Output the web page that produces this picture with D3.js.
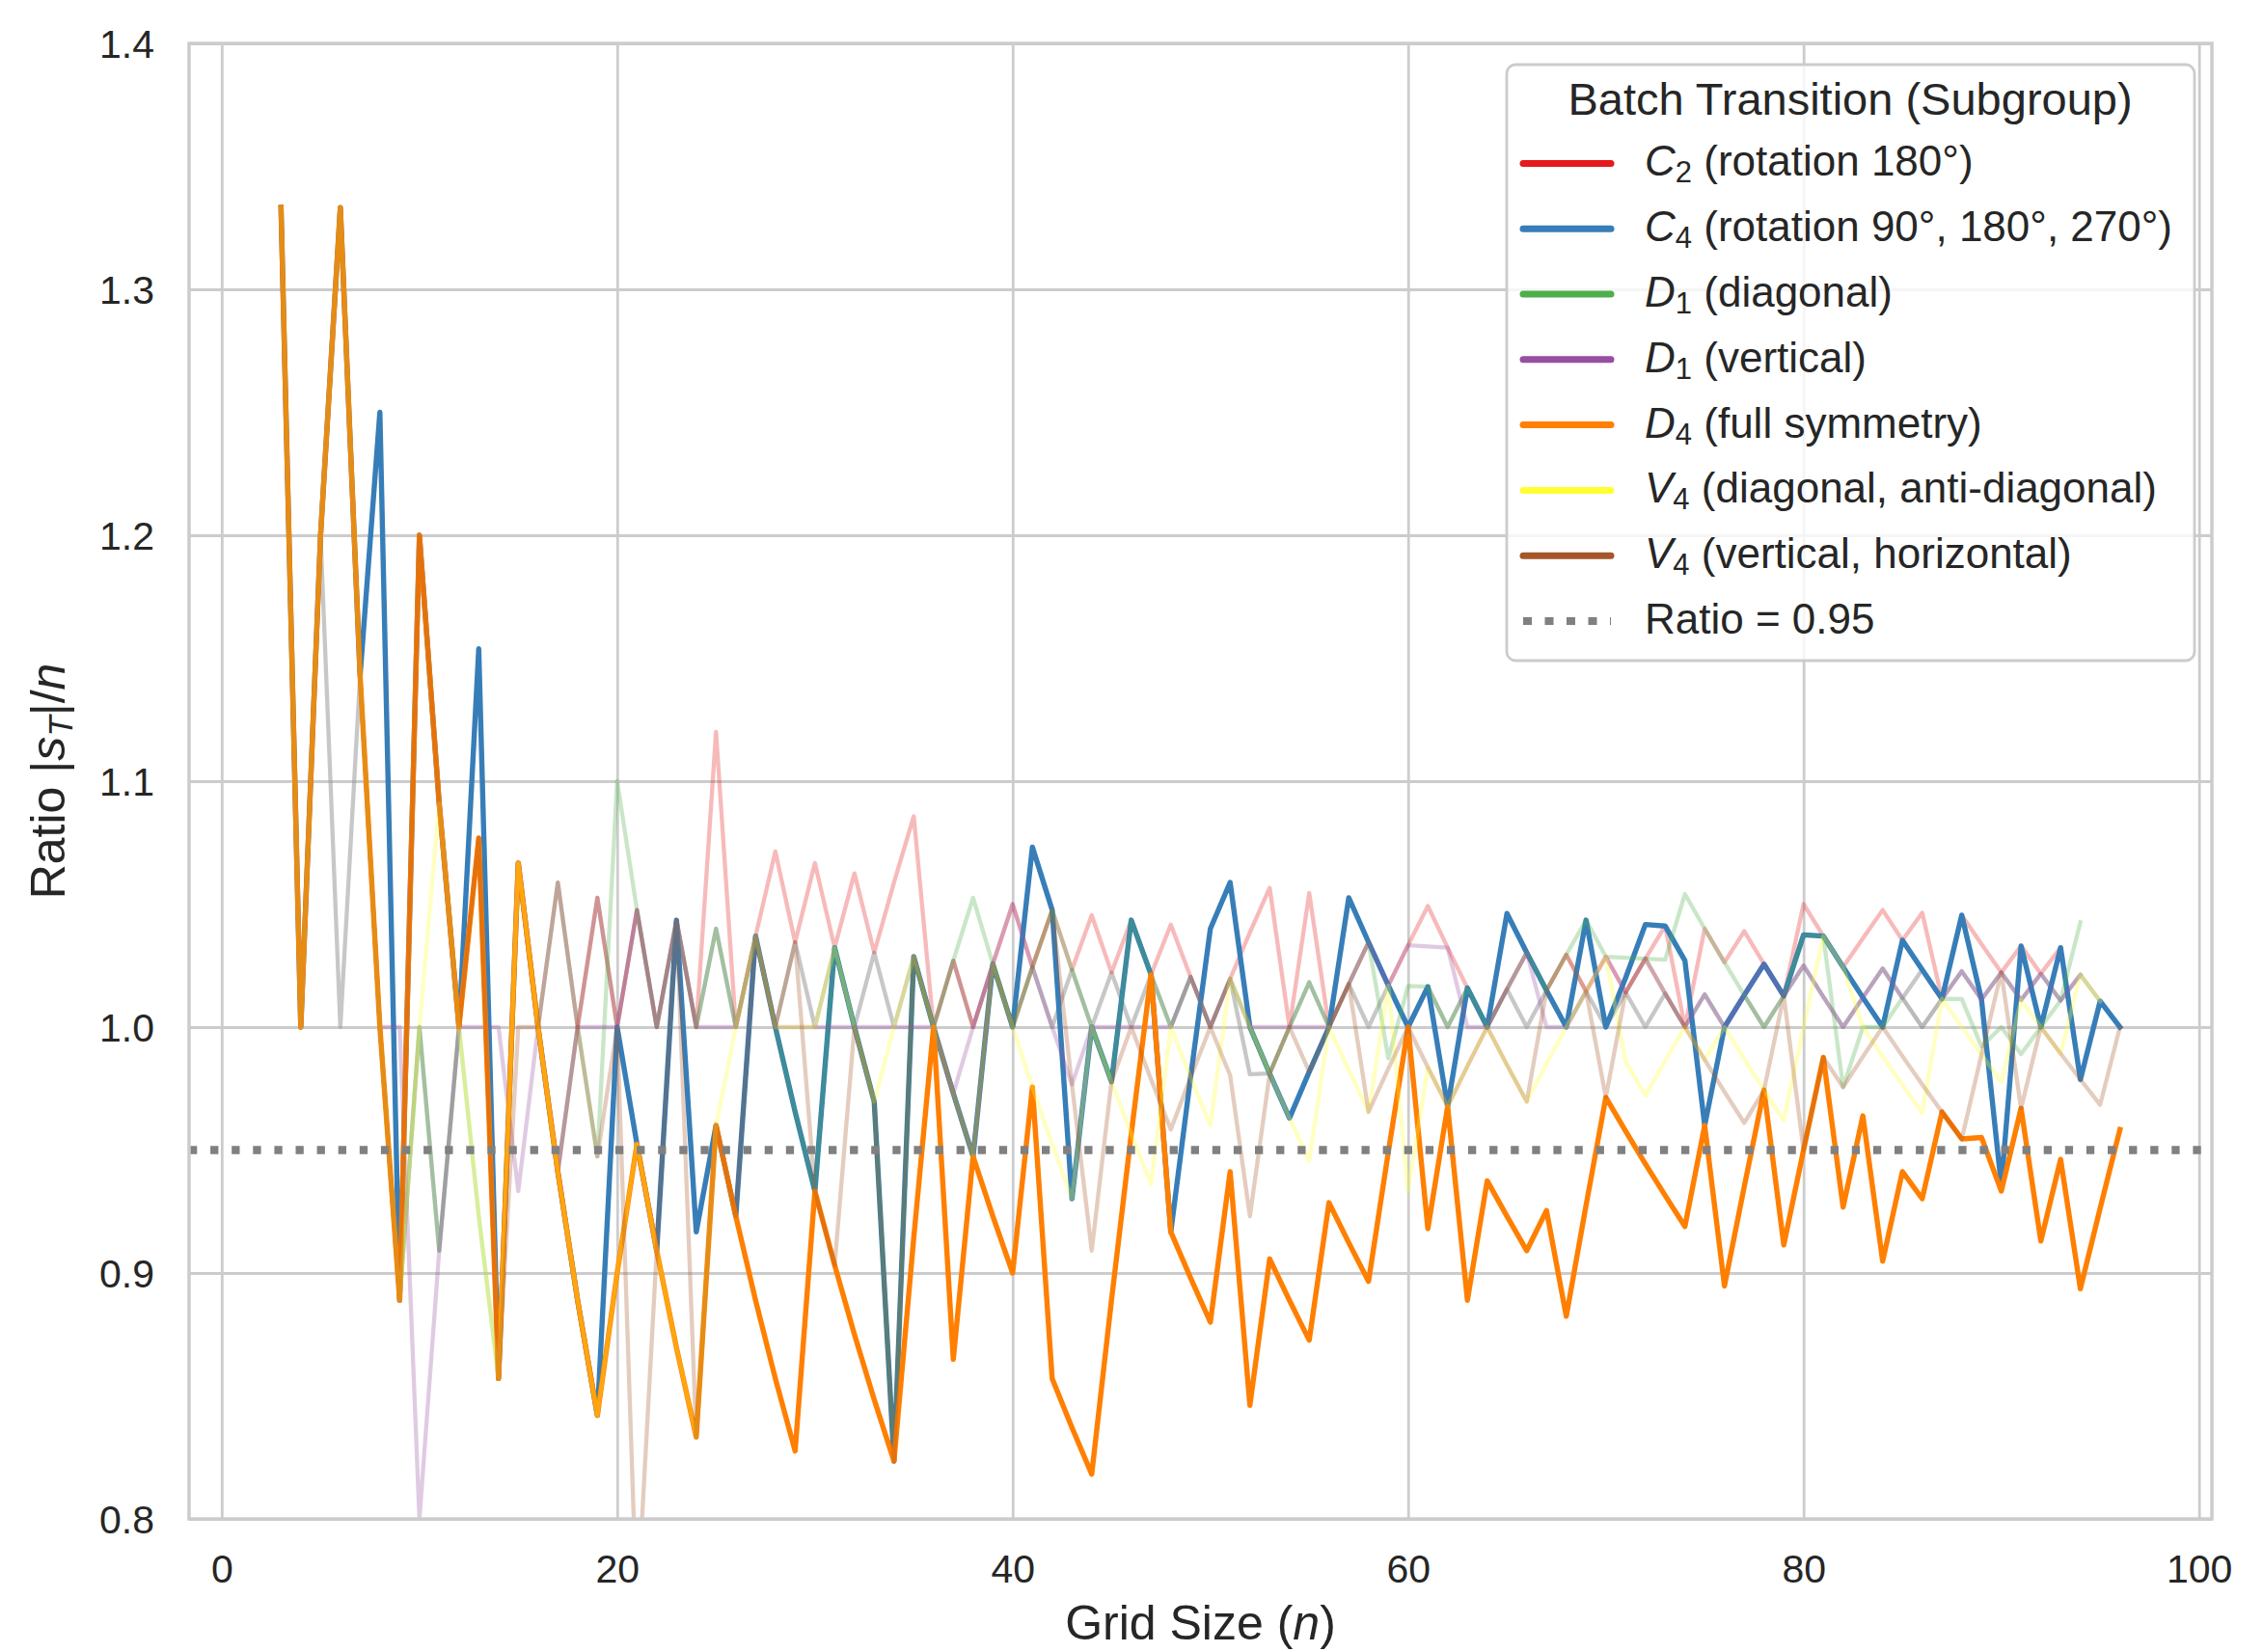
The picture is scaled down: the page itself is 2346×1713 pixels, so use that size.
<!DOCTYPE html>
<html>
<head>
<meta charset="utf-8">
<script src="https://cdn.jsdelivr.net/npm/d3@7"></script>
<style>
  html, body { margin: 0; padding: 0; background: #fff; }
  svg { display: block; font-family: "Liberation Sans", Arial, Helvetica, sans-serif; }
  text { white-space: pre; }
</style>
</head>
<body>
<svg id="chart" width="2346" height="1713"></svg>
<script>
// Grid sizes n (x values)
const gridSizes = [
  3, 4, 5, 6, 7, 8, 9, 10, 11, 12,
  13, 14, 15, 16, 17, 18, 19, 20, 21, 22,
  23, 24, 25, 26, 27, 28, 29, 30, 31, 32,
  33, 34, 35, 36, 37, 38, 39, 40, 41, 42,
  43, 44, 45, 46, 47, 48, 49, 50, 51, 52,
  53, 54, 55, 56, 57, 58, 59, 60, 61, 62,
  63, 64, 65, 66, 67, 68, 69, 70, 71, 72,
  73, 74, 75, 76, 77, 78, 79, 80, 81, 82,
  83, 84, 85, 86, 87, 88, 89, 90, 91, 92,
  93, 94, 95, 96
];

// Ratio |s_T|/n per subgroup
const c2Ratio = [
  1.3333, 1.0, 1.2, 1.3333, 1.1429, 1.0, 0.8889, 1.2, 1.0909, 1.0,
  1.0769, 0.8571, 1.0667, 1.0, 0.9412, 1.0, 1.0526, 1.0, 1.0476, 1.0,
  1.0435, 1.0, 1.12, 1.0, 1.037, 1.0714, 1.0345, 1.0667, 1.0323, 1.0625,
  1.0303, 1.0588, 1.0857, 1.0, 1.027, 1.0, 1.0256, 1.05, 1.0244, 1.0476,
  1.0233, 1.0455, 1.0222, 1.0435, 1.0213, 1.0417, 1.0204, 1.0, 1.0196, 1.0385,
  1.0566, 1.0, 1.0545, 1.0, 1.0175, 1.0345, 1.0169, 1.0333, 1.0492, 1.0323,
  1.0159, 1.0, 1.0154, 1.0303, 1.0149, 1.0294, 1.0145, 1.0286, 1.0141, 1.0278,
  1.0411, 1.0, 1.04, 1.0263, 1.039, 1.0256, 1.0127, 1.05, 1.037, 1.0244,
  1.0361, 1.0476, 1.0353, 1.0465, 1.0115, 1.0455, 1.0337, 1.0222, 1.033, 1.0217,
  1.0323, null, null, null
];

const c4Ratio = [
  1.3333, 1.0, 1.2, 1.3333, 1.1429, 1.25, 0.8889, 1.2, 1.0909, 1.0,
  1.1538, 0.8571, 1.0667, 1.0, 0.9412, 0.8889, 0.8421, 1.0, 0.9524, 0.9091,
  1.0435, 0.9167, 0.96, 0.9231, 1.037, 1.0, 0.9655, 0.9333, 1.0323, 1.0,
  0.9697, 0.8235, 1.0286, 1.0, 0.973, 0.9474, 1.0256, 1.0, 1.0732, 1.0476,
  0.9302, 1.0, 0.9778, 1.0435, 1.0213, 0.9167, 0.9796, 1.04, 1.0588, 1.0,
  0.9811, 0.963, 0.9818, 1.0, 1.0526, 1.0345, 1.0169, 1.0, 1.0164, 0.9677,
  1.0159, 1.0, 1.0462, 1.0303, 1.0149, 1.0, 1.0435, 1.0, 1.02, 1.0417,
  1.0411, 1.027, 0.96, 1.0, 1.013, 1.0256, 1.0127, 1.0375, 1.037, 1.0244,
  1.012, 1.0, 1.0353, 1.0233, 1.0115, 1.0455, 1.0112, 0.9356, 1.033, 1.0,
  1.0323, 0.9787, 1.0105, 1.0
];

const d1DiagRatio = [
  1.3333, 1.0, 1.2, 1.3333, 1.1429, 1.0, 0.8889, 1.0, 0.9091, 1.0,
  0.9231, 0.8571, 1.0667, 1.0, 0.9412, 1.0, 0.9474, 1.1, 1.0476, 1.0,
  1.0435, 1.0, 1.04, 1.0, 1.037, 1.0, 0.9655, 0.9333, 1.0323, 1.0,
  0.9697, 0.8235, 1.0286, 1.0, 1.027, 1.0526, 1.0256, 1.0, 1.0244, 1.0476,
  1.0233, 1.0, 0.9778, 1.0435, 1.0213, 1.0, 1.0204, 1.0, 1.0196, 1.0,
  0.9811, 1.0, 1.0182, 1.0, 1.0175, 1.0345, 0.9873, 1.0167, 1.0164, 1.0,
  1.0159, 1.0, 1.0154, 1.0303, 1.0149, 1.0294, 1.0435, 1.0286, 1.0282, 1.0278,
  1.0274, 1.0541, 1.04, 1.0263, 1.013, 1.0, 1.0127, 1.0375, 1.037, 0.9756,
  1.0, 1.0, 1.0118, 1.0, 1.0115, 1.0114, 0.9921, 1.0, 0.989, 1.0,
  1.0108, 1.0426, null, null
];

const d1VertRatio = [
  1.3333, 1.0, 1.2, 1.3333, 1.1429, 1.0, 1.0, 0.8, 0.9091, 1.0,
  1.0, 1.0, 0.9333, 1.0, 0.9412, 1.0, 1.0, 1.0, 1.0476, 1.0,
  1.0435, 1.0, 1.0, 1.0, 1.037, 1.0, 1.0, 1.0, 1.0, 1.0,
  1.0, 1.0, 1.0, 1.0, 0.973, 1.0, 1.0256, 1.05, 1.0244, 1.0,
  0.9767, 1.0, 1.0, 1.0, 1.0, 1.0, 1.0204, 1.0, 1.0196, 1.0,
  1.0, 1.0, 1.0, 1.0, 1.0175, 1.0345, 1.0169, 1.0333, 1.0328, 1.0323,
  1.0, 1.0, 1.0154, 1.0303, 1.0, 1.0, 1.0145, 1.0286, 1.0141, 1.0278,
  1.0137, 1.0, 1.0133, 1.0, 1.013, 1.0256, 1.0127, 1.025, 1.0123, 1.0,
  1.012, 1.0238, 1.0118, 1.0, 1.0115, 1.0227, 1.0112, 1.0222, 1.011, 1.0217,
  1.0108, 1.0213, null, null
];

const d4Ratio = [
  1.3333, 1.0, 1.2, 1.3333, 1.1429, 1.0, 0.8889, 1.2, 1.0909, 1.0,
  1.0769, 0.8571, 1.0667, 1.0, 0.9412, 0.8889, 0.8421, 0.9, 0.9524, 0.9091,
  0.8696, 0.8333, 0.96, 0.9231, 0.8889, 0.8571, 0.8276, 0.9333, 0.9032, 0.875,
  0.8485, 0.8235, 0.9143, 1.0, 0.8649, 0.9474, 0.9231, 0.9, 0.9756, 0.8571,
  0.8372, 0.8182, 0.8889, 0.9565, 1.0213, 0.9167, 0.898, 0.88, 0.9412, 0.8462,
  0.9057, 0.8889, 0.8727, 0.9286, 0.9123, 0.8966, 0.9492, 1.0, 0.918, 0.9677,
  0.8889, 0.9375, 0.9231, 0.9091, 0.9254, 0.8824, 0.9275, 0.9714, 0.9577, 0.9444,
  0.9315, 0.9189, 0.96, 0.8947, 0.9351, 0.9744, 0.9114, 0.95, 0.9877, 0.9268,
  0.9639, 0.9048, 0.9412, 0.9302, 0.9655, 0.9545, 0.9551, 0.9333, 0.967, 0.913,
  0.9462, 0.8936, 0.9263, 0.9583
];

const v4DiagRatio = [
  1.3333, 1.0, 1.2, 1.3333, 1.1429, 1.0, 0.8889, 1.0, 1.0909, 1.0,
  0.9231, 0.8571, 1.0667, 1.0, 0.9412, 0.8889, 0.8421, 0.9, 0.9524, 0.9091,
  0.8696, 0.8333, 0.96, 1.0, 1.037, 1.0, 1.0, 1.0, 1.0323, 1.0,
  0.9697, 1.0, 1.0286, 1.0, 0.973, 0.9474, 1.0256, 1.0, 0.9756, 0.9524,
  0.9302, 1.0, 0.9778, 0.9565, 0.9362, 1.0, 0.9796, 0.96, 1.0196, 1.0,
  0.9811, 0.963, 0.9455, 1.0, 0.9825, 0.9655, 1.0169, 0.9333, 0.9836, 0.9677,
  0.9841, 1.0, 0.9846, 0.9697, 0.9851, 1.0, 1.0145, 1.0286, 0.9859, 0.9722,
  0.9863, 1.0, 0.9867, 1.0, 0.987, 0.9744, 0.962, 1.0, 1.037, 1.0244,
  1.0, 0.9881, 0.9765, 0.9651, 1.0115, 1.0, 0.9888, 0.9778, 1.011, 1.0,
  0.9892, 1.0213, 1.0105, null
];

const v4VertRatio = [
  1.3333, 1.0, 1.2, 1.3333, 1.1429, 1.0, 0.8889, 1.2, 1.0909, 1.0,
  1.0769, 0.8571, 1.0, 1.0, 1.0588, 1.0, 0.9474, 1.0, 0.7619, 0.9091,
  1.0435, 0.8333, 0.96, 0.9231, 1.037, 1.0, 1.0345, 0.9333, 0.9032, 1.0,
  0.9697, 0.8235, 1.0286, 1.0, 0.973, 0.9474, 1.0256, 1.0, 1.0244, 1.0476,
  0.9767, 0.9091, 0.9778, 1.0, 0.9787, 0.9583, 0.9796, 1.0, 0.9804, 0.9231,
  0.9811, 1.0, 0.9818, 1.0, 1.0175, 0.9655, 0.9831, 1.0, 0.9836, 0.9677,
  0.9841, 1.0, 0.9846, 0.9697, 1.0149, 1.0294, 1.0145, 0.9714, 1.0141, 1.0278,
  1.0137, 1.0, 0.9867, 0.9737, 0.961, 0.9744, 1.0127, 0.95, 0.9877, 0.9756,
  0.988, 1.0, 0.9882, 0.9767, 0.9655, 0.9545, 0.9888, 1.0222, 0.967, 1.0,
  0.9892, 0.9787, 0.9684, 1.0
];

// unlabeled reference series (grey, not in legend)
const otherRatio = [
  1.3333, 1.0, 1.2, 1.0, 1.1429, 1.0, 0.8889, 1.0, 0.9091, 1.0,
  1.0769, 0.8571, 1.0667, 1.0, 1.0588, 1.0, 1.0526, 1.0, 1.0476, 1.0,
  1.0435, 1.0, 1.04, 1.0, 1.037, 1.0, 1.0345, 1.0, 1.0323, 1.0,
  1.0303, 1.0, 1.0286, 1.0, 1.027, 1.0, 1.0256, 1.0, 1.0244, 1.0,
  1.0233, 1.0, 1.0222, 1.0, 1.0213, 1.0, 1.0204, 1.0, 1.0196, 0.9808,
  0.9811, 1.0, 1.0182, 1.0, 1.0175, 1.0, 1.0169, 1.0, 1.0164, 1.0,
  1.0159, 1.0, 1.0154, 1.0, 1.0149, 1.0, 1.0145, 1.0, 1.0141, 1.0,
  1.0137, 1.0, 1.0133, 1.0, 1.013, 1.0, 1.0127, 1.025, 1.0123, 1.0,
  1.012, 1.0238, 1.0118, 1.0233, 1.0115, 1.0227, 1.0112, 1.0222, 1.011, 1.0217,
  1.0108, 1.0213, 1.0105, 1.0
];

const threshold = 0.95;

// axis ticks
const xTicks = [0, 20, 40, 60, 80, 100];
const yTicks = [0.8, 0.9, 1.0, 1.1, 1.2, 1.3, 1.4];

// legend labels: italic letter, subscript, rest
const legendLetters = ["C", "C", "D", "D", "D", "V", "V"];
const legendSubs = ["2", "4", "1", "1", "4", "4", "4"];
const legendRest = [
  " (rotation 180°)",
  " (rotation 90°, 180°, 270°)",
  " (diagonal)",
  " (vertical)",
  " (full symmetry)",
  " (diagonal, anti-diagonal)",
  " (vertical, horizontal)"
];

// ---- layout ----
const plot = { left: 196, right: 2293, top: 45, bottom: 1575 };
const textColor = "#262626";
const gridColor = "#cccccc";

const svg = d3.select("#chart");

const x = d3.scaleLinear().domain([-1.65, 100.65]).range([plot.left, plot.right]);
const y = d3.scaleLinear().domain([0.8, 1.4]).range([plot.bottom, plot.top]);

svg.append("rect")
  .attr("width", 2346).attr("height", 1713).attr("fill", "#fff");

// grid + tick labels
const xAxisG = svg.append("g")
  .attr("transform", `translate(0,${plot.bottom})`)
  .call(d3.axisBottom(x)
    .tickValues(xTicks)
    .tickSize(-(plot.bottom - plot.top))
    .tickPadding(37)
    .tickFormat(d3.format("d")));

const yAxisG = svg.append("g")
  .attr("transform", `translate(${plot.left},0)`)
  .call(d3.axisLeft(y)
    .tickValues(yTicks)
    .tickSize(-(plot.right - plot.left))
    .tickPadding(36)
    .tickFormat(d3.format(".1f")));

[xAxisG, yAxisG].forEach(g => {
  g.select(".domain").remove();
  g.selectAll(".tick line").attr("stroke", gridColor).attr("stroke-width", 2.8);
  g.selectAll(".tick text")
    .attr("fill", textColor)
    .style("font-size", "41px")
    .style("font-family", '"Liberation Sans", Arial, sans-serif');
});
yAxisG.selectAll(".tick text").attr("dy", "0.36em");

// clip
svg.append("clipPath").attr("id", "plotClip")
  .append("rect")
  .attr("x", plot.left).attr("y", plot.top)
  .attr("width", plot.right - plot.left).attr("height", plot.bottom - plot.top);

const series = [
  { key: "other", values: otherRatio, color: "#999999", alpha: 0.55, width: 4.3 },
  { key: "c2", values: c2Ratio, color: "#e41a1c", alpha: 0.3, width: 4.3 },
  { key: "c4", values: c4Ratio, color: "#377eb8", alpha: 1, width: 5.4 },
  { key: "d1diag", values: d1DiagRatio, color: "#4daf4a", alpha: 0.3, width: 4.3 },
  { key: "d1vert", values: d1VertRatio, color: "#984ea3", alpha: 0.3, width: 4.3 },
  { key: "d4", values: d4Ratio, color: "#ff7f00", alpha: 1, width: 5.4 },
  { key: "v4diag", values: v4DiagRatio, color: "#ffff33", alpha: 0.3, width: 4.3 },
  { key: "v4vert", values: v4VertRatio, color: "#a65628", alpha: 0.3, width: 4.3 }
];

const line = d3.line()
  .defined(d => d.v !== null)
  .x(d => x(d.n))
  .y(d => y(d.v));

const linesG = svg.append("g").attr("clip-path", "url(#plotClip)");

series.forEach(s => {
  const pts = gridSizes.map((n, i) => ({ n, v: s.values[i] }));
  linesG.append("path")
    .attr("d", line(pts))
    .attr("fill", "none")
    .attr("stroke", s.color)
    .attr("stroke-opacity", s.alpha)
    .attr("stroke-width", s.width)
    .attr("stroke-linejoin", "round")
    .attr("stroke-linecap", "square");
});

// threshold line
linesG.append("line")
  .attr("x1", plot.left).attr("x2", plot.right)
  .attr("y1", y(threshold)).attr("y2", y(threshold))
  .attr("stroke", "#808080")
  .attr("stroke-width", 8.3)
  .attr("stroke-dasharray", "8.3,13.8");

// spines
svg.append("rect")
  .attr("x", plot.left).attr("y", plot.top)
  .attr("width", plot.right - plot.left).attr("height", plot.bottom - plot.top)
  .attr("fill", "none")
  .attr("stroke", gridColor)
  .attr("stroke-width", 3.5);

// axis titles
const xTitle = svg.append("text")
  .attr("x", (plot.left + plot.right) / 2)
  .attr("y", 1700)
  .attr("text-anchor", "middle")
  .attr("fill", textColor)
  .style("font-size", "50px");
xTitle.append("tspan").text("Grid Size (");
xTitle.append("tspan").style("font-style", "italic").text("n");
xTitle.append("tspan").text(")");

const yTitle = svg.append("text")
  .attr("transform", `translate(67,${(plot.top + plot.bottom) / 2}) rotate(-90)`)
  .attr("text-anchor", "middle")
  .attr("fill", textColor)
  .style("font-size", "50px");
yTitle.append("tspan").text("Ratio |");
yTitle.append("tspan").style("font-style", "italic").text("s");
yTitle.append("tspan").style("font-style", "italic").style("font-size", "35px").attr("dy", 8).text("T");
yTitle.append("tspan").attr("dy", -8).text("|/");
yTitle.append("tspan").style("font-style", "italic").text("n");

// legend
const legend = svg.append("g");
legend.append("rect")
  .attr("x", 1562).attr("y", 67)
  .attr("width", 713).attr("height", 618)
  .attr("rx", 9)
  .attr("fill", "rgba(255,255,255,0.8)")
  .attr("stroke", gridColor)
  .attr("stroke-width", 2.8);

legend.append("text")
  .attr("x", 1918).attr("y", 119)
  .attr("text-anchor", "middle")
  .attr("fill", textColor)
  .style("font-size", "47px")
  .text("Batch Transition (Subgroup)");

const legendSeries = series.filter(s => s.key !== "other");
const rowY = i => 169.4 + i * 67.8;

legendSeries.forEach((s, i) => {
  const cy = rowY(i);
  legend.append("line")
    .attr("x1", 1579).attr("x2", 1670)
    .attr("y1", cy).attr("y2", cy)
    .attr("stroke", s.color)
    .attr("stroke-width", 7)
    .attr("stroke-linecap", "round");
  const t = legend.append("text")
    .attr("x", 1705).attr("y", cy + 13)
    .attr("fill", textColor)
    .style("font-size", "44px");
  t.append("tspan").style("font-style", "italic").text(legendLetters[i]);
  t.append("tspan").style("font-size", "31px").attr("dy", 7).text(legendSubs[i]);
  t.append("tspan").attr("dy", -7).text(legendRest[i]);
});

{
  const cy = rowY(7);
  legend.append("line")
    .attr("x1", 1579).attr("x2", 1670)
    .attr("y1", cy).attr("y2", cy)
    .attr("stroke", "#808080")
    .attr("stroke-width", 8)
    .attr("stroke-dasharray", "9,13.5");
  legend.append("text")
    .attr("x", 1705).attr("y", cy + 13)
    .attr("fill", textColor)
    .style("font-size", "44px")
    .text(`Ratio = ${threshold}`);
}
</script>
</body>
</html>
